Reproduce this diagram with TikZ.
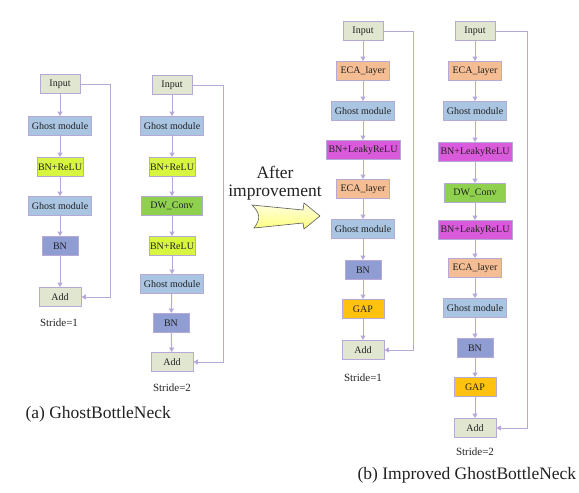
\documentclass[tikz,border=0pt]{standalone}
\usepackage{fontspec}
\setmainfont{Liberation Serif}
\usetikzlibrary{arrows.meta}
\definecolor{linec}{HTML}{B6A9D8}
\definecolor{inpc}{HTML}{E0E6CF}
\definecolor{ghostc}{HTML}{A9C5E2}
\definecolor{brc}{HTML}{D8F540}
\definecolor{dwc}{HTML}{8FD14F}
\definecolor{bnc}{HTML}{8F9DD3}
\definecolor{ecac}{HTML}{F5BD93}
\definecolor{blrc}{HTML}{D95ADA}
\definecolor{gapc}{HTML}{FFC20E}
\definecolor{txtc}{HTML}{222222}
\tikzset{
  blk/.style={draw=linec, line width=0.9pt, minimum height=19pt, inner sep=0pt, text=txtc, font=\fontsize{10}{12}\selectfont},
  inp/.style={blk, fill=inpc, minimum width=40pt},
  ghost/.style={blk, fill=ghostc, minimum width=63pt},
  bnrelu/.style={blk, fill=brc, minimum width=46pt},
  dwconv/.style={blk, fill=dwc, minimum width=61pt},
  bnbox/.style={blk, fill=bnc, minimum width=36pt},
  eca/.style={blk, fill=ecac, minimum width=53pt},
  blrelu/.style={blk, fill=blrc, minimum width=74pt},
  gap/.style={blk, fill=gapc, minimum width=42pt},
  addbox/.style={blk, fill=inpc, minimum width=42pt},
  conn/.style={draw=linec, line width=1pt, -{Triangle[length=4.5pt,width=5pt]}},
  stridetxt/.style={font=\fontsize{11}{13}\selectfont, text=txtc},
  captxt/.style={font=\fontsize{17.5}{20}\selectfont, text=txtc},
}
\begin{document}
\begin{tikzpicture}[x=1pt,y=-1pt]
\useasboundingbox (0,0) rectangle (579,493);
% ---- (a) stride 1
\node[inp]    (a1in)  at (60,84)  {Input};
\node[ghost]  (a1g1)  at (60,126) {Ghost module};
\node[bnrelu] (a1br)  at (60,167) {BN+ReLU};
\node[ghost]  (a1g2)  at (60,206) {Ghost module};
\node[bnbox]  (a1bn)  at (60,246) {BN};
\node[addbox] (a1add) at (60,297) {Add};
\node[stridetxt] (a1s) at (59,323) {Stride=1};
\draw[conn] (a1in) -- (a1g1);
\draw[conn] (a1g1) -- (a1br);
\draw[conn] (a1br) -- (a1g2);
\draw[conn] (a1g2) -- (a1bn);
\draw[conn] (a1bn) -- (a1add);
\draw[conn] (a1in.east) -- (110,84) -- (110,297) -- (a1add.east);
% ---- (a) stride 2
\node[inp]    (a2in)  at (172,85)  {Input};
\node[ghost]  (a2g1)  at (172,126) {Ghost module};
\node[bnrelu] (a2br1) at (172,167) {BN+ReLU};
\node[dwconv] (a2dw)  at (172,206) {DW\_Conv};
\node[bnrelu] (a2br2) at (172,246) {BN+ReLU};
\node[ghost]  (a2g2)  at (172,284) {Ghost module};
\node[bnbox]  (a2bn)  at (171,323) {BN};
\node[addbox] (a2add) at (172,362) {Add};
\node[stridetxt] (a2s) at (172,388) {Stride=2};
\draw[conn] (a2in) -- (a2g1);
\draw[conn] (a2g1) -- (a2br1);
\draw[conn] (a2br1) -- (a2dw);
\draw[conn] (a2dw) -- (a2br2);
\draw[conn] (a2br2) -- (a2g2);
\draw[conn] (a2g2) -- (a2bn);
\draw[conn] (a2bn) -- (a2add);
\draw[conn] (a2in.east) -- (223,85) -- (223,362) -- (a2add.east);
% ---- (b) stride 1
\node[inp]    (b1in)  at (363,31)  {Input};
\node[eca]    (b1e1)  at (363,71)  {ECA\_layer};
\node[ghost]  (b1g1)  at (363,111) {Ghost module};
\node[blrelu] (b1bl)  at (363,150) {BN+LeakyReLU};
\node[eca]    (b1e2)  at (363,189) {ECA\_layer};
\node[ghost]  (b1g2)  at (363,229) {Ghost module};
\node[bnbox]  (b1bn)  at (363,270) {BN};
\node[gap]    (b1gap) at (363,309) {GAP};
\node[addbox] (b1add) at (363,350) {Add};
\node[stridetxt] (b1s) at (363,378) {Stride=1};
\draw[conn] (b1in) -- (b1e1);
\draw[conn] (b1e1) -- (b1g1);
\draw[conn] (b1g1) -- (b1bl);
\draw[conn] (b1bl) -- (b1e2);
\draw[conn] (b1e2) -- (b1g2);
\draw[conn] (b1g2) -- (b1bn);
\draw[conn] (b1bn) -- (b1gap);
\draw[conn] (b1gap) -- (b1add);
\draw[conn] (b1in.east) -- (413,31) -- (413,350) -- (b1add.east);
% ---- (b) stride 2
\node[inp]    (b2in)  at (475,31)  {Input};
\node[eca]    (b2e1)  at (475,71)  {ECA\_layer};
\node[ghost]  (b2g1)  at (475,111) {Ghost module};
\node[blrelu] (b2bl1) at (475,152) {BN+LeakyReLU};
\node[dwconv] (b2dw)  at (475,193) {DW\_Conv};
\node[blrelu] (b2bl2) at (475,230) {BN+LeakyReLU};
\node[eca]    (b2e2)  at (475,268) {ECA\_layer};
\node[ghost]  (b2g2)  at (475,308) {Ghost module};
\node[bnbox]  (b2bn)  at (475,348) {BN};
\node[gap]    (b2gap) at (475,387) {GAP};
\node[addbox] (b2add) at (475,428) {Add};
\node[stridetxt] (b2s) at (475,452) {Stride=2};
\draw[conn] (b2in) -- (b2e1);
\draw[conn] (b2e1) -- (b2g1);
\draw[conn] (b2g1) -- (b2bl1);
\draw[conn] (b2bl1) -- (b2dw);
\draw[conn] (b2dw) -- (b2bl2);
\draw[conn] (b2bl2) -- (b2e2);
\draw[conn] (b2e2) -- (b2g2);
\draw[conn] (b2g2) -- (b2bn);
\draw[conn] (b2bn) -- (b2gap);
\draw[conn] (b2gap) -- (b2add);
\draw[conn] (b2in.east) -- (527,31) -- (527,428) -- (b2add.east);
% ---- improvement arrow
\node[font=\fontsize{17.5}{17.5}\selectfont, text=txtc, align=center, inner sep=0pt] (aftertxt) at (275,183) {After\\improvement};
\draw[draw=black!65, line width=0.6pt, top color=yellow!12, bottom color=yellow!50]
  (252,205) -- (303,210) -- (304,203) -- (320,216) -- (304,229) -- (303,223) -- (254,228)
  .. controls (261,219) and (260,213) .. cycle;
% ---- captions
\node[captxt, anchor=west] (capa) at (22,414) {(a) GhostBottleNeck};
\node[captxt, anchor=west] (capb) at (354,475) {(b) Improved GhostBottleNeck};
\end{tikzpicture}
\end{document}
